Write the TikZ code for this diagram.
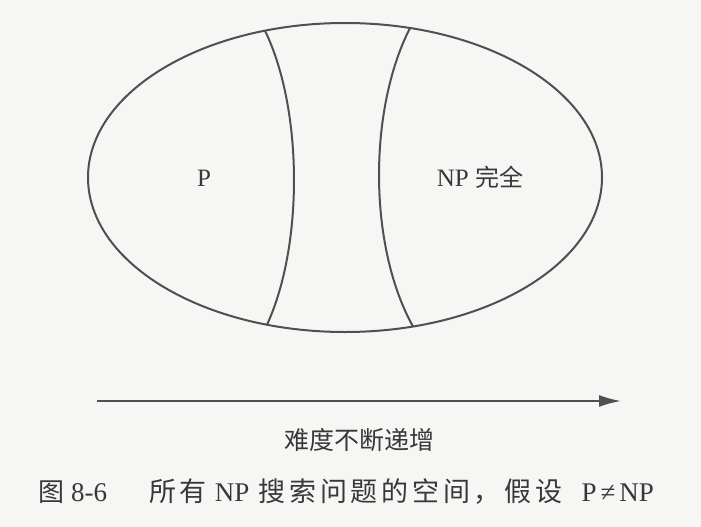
\documentclass[tikz,border=0pt]{standalone}
\usepackage{fontspec}
\setmainfont{Liberation Serif}
\newfontfamily\cjk{Noto Sans CJK SC}
\newfontfamily\cjkwide{Noto Sans CJK SC}[LetterSpace=14]
\usetikzlibrary{arrows.meta,shapes.geometric}
\definecolor{paper}{HTML}{F6F6F4}
\definecolor{ink}{HTML}{505050}
\definecolor{txt}{HTML}{383838}
\tikzset{
  outline/.style={draw=ink, line width=2pt},
  lbl/.style={text=txt, inner sep=0pt, font=\fontsize{25}{30}\selectfont},
  cjklbl/.style={text=txt, inner sep=0pt, font=\fontsize{25}{30}\selectfont\cjk},
  caplbl/.style={text=txt, inner sep=0pt, font=\fontsize{27}{32}\selectfont},
  arrowline/.style={draw=ink, line width=2pt, -{Latex[length=22pt,width=12pt]}}
}
\begin{document}
\begin{tikzpicture}[x=1pt,y=-1pt]
  \fill[paper] (0,0) rectangle (701,527);
  \useasboundingbox (0,0) rectangle (701,527);
  % ellipse
  \node[outline, ellipse, minimum width=514pt, minimum height=309pt, inner sep=0pt] (space) at (345,177.5) {};
  % boundary points
  \coordinate (l1) at (265,30.7);
  \coordinate (l2) at (267,324.7);
  \coordinate (r1) at (410,28.0);
  \coordinate (r2) at (413,326.5);
  \draw[outline] (l1) .. controls (303.3,110) and (303.3,246) .. (l2);
  \draw[outline] (r1) .. controls (368.2,110) and (368.2,246) .. (r2);
  % labels
  \node[lbl] (p) at (204,178) {P};
  \node[lbl] (npc) at (480,177) {NP {\fontsize{24}{28}\selectfont\cjk 完全}};
  % arrow
  \coordinate (a1) at (97,401);
  \coordinate (a2) at (621,401);
  \draw[arrowline] (a1) -- (a2);
  \node[cjklbl] (hard) at (359,440) {难度不断递增};
  \node[caplbl, anchor=west] (cap) at (38,492) {{\fontsize{26}{30}\selectfont\cjk 图}\hspace{7pt}8-6\hspace{42pt}{\fontsize{27}{30}\selectfont\cjkwide 所有}\hspace{8pt}NP\hspace{9pt}{\fontsize{27}{30}\selectfont\cjkwide 搜索问题的空间，假设}\hspace{19pt}P\hspace{4pt}≠\hspace{4pt}NP};
\end{tikzpicture}
\end{document}
